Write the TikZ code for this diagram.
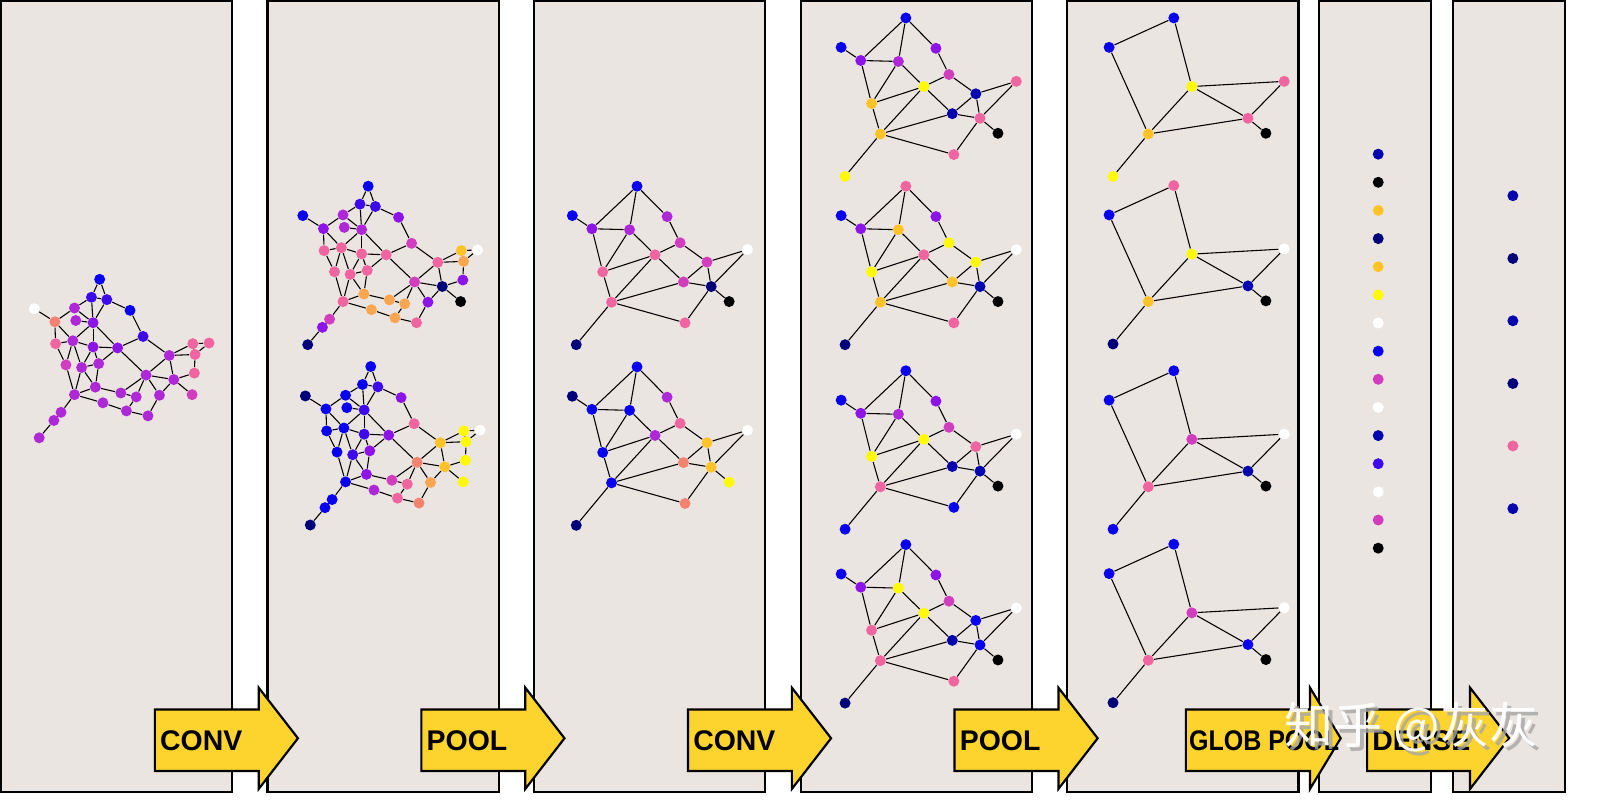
\documentclass[tikz,border=0pt]{standalone}
\usepackage{fontspec}
\setmainfont{Liberation Sans}
\newfontfamily\cjk{Noto Sans CJK SC}
\usetikzlibrary{calc}
\definecolor{panelbg}{RGB}{235,229,225}
\definecolor{arrowy}{RGB}{253,212,45}
\definecolor{cblue}{RGB}{10,0,240}
\definecolor{cnavy}{RGB}{0,0,120}
\definecolor{cdblue}{RGB}{5,5,175}
\definecolor{cindigo}{RGB}{60,10,235}
\definecolor{cviolet}{RGB}{140,20,230}
\definecolor{corchid}{RGB}{175,40,215}
\definecolor{cmag}{RGB}{210,60,190}
\definecolor{cpink}{RGB}{240,100,160}
\definecolor{csalmon}{RGB}{245,130,110}
\definecolor{csandy}{RGB}{250,165,80}
\definecolor{cgold}{RGB}{255,195,40}
\definecolor{cyellow}{RGB}{255,250,0}
\pgfdeclarelayer{back}\pgfdeclarelayer{edges}
\pgfsetlayers{back,edges,main}
\tikzset{
 dot/.style={circle,inner sep=0pt,minimum size=5.6pt,draw=none},
 edge/.style={draw=black,line width=0.55pt},
 panel/.style={draw=black,line width=1.1pt,fill=panelbg},
 arr/.style={draw=black,line width=1.1pt,fill=arrowy,line join=miter},
 albl/.style={anchor=west,font=\fontsize{14.5pt}{16pt}\selectfont\bfseries,inner sep=0pt},
}
\newcommand\bigG[4]{% prefix, dx, dy, colours
 \foreach \n/\c in {#4}{\node[dot,fill=\c] (#1\n) at ($(b\n)+(#2,#3)$) {};}
 \begin{pgfonlayer}{edges}
 \foreach \u/\v in {1/2,1/3,2/3,2/6,2/9,3/9,3/4,4/10,5/7,6/7,6/9,8/9,7/11,7/12,9/12,9/13,9/14,11/12,11/15,12/15,12/16,12/13,13/14,13/17,13/16,14/10,14/17,14/23,10/18,16/17,15/26,16/26,16/25,17/25,25/26,26/31,25/27,31/32,27/28,28/32,27/23,23/28,23/18,23/24,23/29,29/33,32/33,18/19,18/21,18/24,19/20,19/21,20/21,21/22,22/24,24/30,24/29,26/34,34/35,35/36}
  {\draw[edge] (#1\u) -- (#1\v);}
 \end{pgfonlayer}}
\newcommand\smallG[4]{%
 \foreach \n/\c in {#4}{\node[dot,fill=\c] (#1\n) at ($(t\n)+(#2,#3)$) {};}
 \begin{pgfonlayer}{edges}
 \foreach \u/\v in {A/C,A/D,A/E,B/C,C/D,C/H,D/H,D/G,E/F,F/G,F/I,G/H,G/M,G/J,H/M,M/J,M/N,M/O,J/I,J/K,I/K,I/P,K/P,K/L,K/N}
  {\draw[edge] (#1\u) -- (#1\v);}
 \end{pgfonlayer}}
\newcommand\tinyG[4]{%
 \foreach \n/\c in {#4}{\node[dot,fill=\c] (#1\n) at ($(t\n)+(#2,#3)$) {};}
 \begin{pgfonlayer}{edges}
 \foreach \u/\v in {A/B,A/G,B/M,G/P,G/K,G/M,M/K,K/P,K/L,M/O}
  {\draw[edge] (#1\u) -- (#1\v);}
 \end{pgfonlayer}}
\newcommand\arrowbox[5]{% name, left, headstart, tip, label
 \draw[arr] (#2,724) -- (#3,724) -- (#3,701.7) -- (#4,753.3) -- (#3,805) -- (#3,786.7) -- (#2,786.7) -- cycle;
 \node[albl] (#1) at (#2+5,755.5) {#5};}
\begin{document}
\begin{tikzpicture}[x=0.5pt,y=-0.5pt]
\useasboundingbox (0,0) rectangle (1631.6,826.5);
% templates
\foreach \n/\x/\y in {1/81.7/20,2/73.3/38.3,3/89/40.7,4/112.7/51.7,5/15/50,6/56/49.3,7/36/63.3,8/57.3/62,9/75/64.3,10/126/78.3,11/36.7/85.7,12/54.3/82.7,13/75/89,14/100/90,15/47.3/107.3,16/63.3/110,17/80.7/106,18/152.7/97.7,19/176.7/85.7,20/193.3/85,21/179/96.7,22/178.3/115.7,23/129/117.7,24/157.3/122.3,25/77.3/130,26/56/137.7,27/103.3/136,28/119/140,29/142.7/138.3,30/176/137.7,31/85/146,32/109/154.3,33/131/159.3,34/42.3/155.7,35/35/164,36/20/181.7}
 {\coordinate (b\n) at (\x,\y);}
\foreach \n/\x/\y in {A/924.3/18.3,B/858.3/48.3,C/878.3/61.7,D/916.7/62.7,E/955/49.3,F/968.3/76,G/942.7/88.3,H/889.3/105.7,I/995.7/95.7,J/971.7/116,K/1000/120.7,L/1018.3/136,M/898.3/136.7,N/973.3/157.7,O/862.3/180,P/1037/83}
 {\coordinate (t\n) at (\x,\y);}
% panels
\begin{pgfonlayer}{back}
\foreach \k in {0,...,4}{\path[panel] (1+272*\k,1) rectangle (237+272*\k,808);}
\path[panel] (1346,1) rectangle (1460,808);
\path[panel] (1483,1) rectangle (1597,808);
\end{pgfonlayer}
% panel 1
\bigG{p}{20}{265}{1/cblue,2/cindigo,3/cindigo,4/cblue,5/white,6/corchid,7/csalmon,8/corchid,9/cviolet,10/cindigo,11/cpink,12/corchid,13/cviolet,14/cviolet,15/cmag,16/corchid,17/corchid,18/corchid,19/cpink,20/cpink,21/cpink,22/cpink,23/corchid,24/corchid,25/corchid,26/corchid,27/corchid,28/corchid,29/corchid,30/cmag,31/corchid,32/corchid,33/corchid,34/corchid,35/corchid,36/corchid}
% panel 2
\bigG{q}{294}{170}{1/cblue,2/cindigo,3/cindigo,4/cviolet,5/cblue,6/corchid,7/cviolet,8/corchid,9/corchid,10/cmag,11/cpink,12/cpink,13/cpink,14/cpink,15/cpink,16/cpink,17/cpink,18/cpink,19/cgold,20/white,21/csandy,22/cviolet,23/cmag,24/cnavy,25/csandy,26/cpink,27/csandy,28/csandy,29/cviolet,30/black,31/csandy,32/csandy,33/cpink,34/cmag,35/cviolet,36/cnavy}
\bigG{r}{296.6}{354}{1/cblue,2/cblue,3/cindigo,4/cviolet,5/cnavy,6/cblue,7/cblue,8/cblue,9/cindigo,10/cpink,11/cblue,12/cblue,13/cindigo,14/cviolet,15/cblue,16/cindigo,17/cviolet,18/cgold,19/cyellow,20/white,21/cyellow,22/cyellow,23/csalmon,24/cgold,25/cviolet,26/cblue,27/cmag,28/cpink,29/csandy,30/cyellow,31/corchid,32/cpink,33/csalmon,34/cblue,35/cblue,36/cnavy}
% panel 3
\smallG{s}{-274.3}{171.7}{A/cblue,B/cblue,C/cviolet,D/corchid,E/corchid,F/cmag,G/cpink,H/cpink,I/cmag,J/cmag,K/cnavy,L/black,M/cpink,N/cpink,O/cnavy,P/white}
\smallG{u}{-274.3}{356}{A/cblue,B/cnavy,C/cblue,D/cblue,E/corchid,F/cpink,G/corchid,H/cblue,I/cgold,J/csalmon,K/cgold,L/cyellow,M/cblue,N/csalmon,O/cnavy,P/white}
% panel 4
\smallG{v}{0}{0}{A/cblue,B/cblue,C/cviolet,D/corchid,E/cviolet,F/cmag,G/cyellow,H/cgold,I/cdblue,J/cdblue,K/cpink,L/black,M/cgold,N/cpink,O/cyellow,P/cpink}
\smallG{w}{0}{171.7}{A/cpink,B/cblue,C/cviolet,D/cgold,E/cviolet,F/cyellow,G/cpink,H/cyellow,I/cyellow,J/cgold,K/cdblue,L/black,M/cgold,N/cpink,O/cnavy,P/white}
\smallG{x}{0}{360}{A/cblue,B/cblue,C/cviolet,D/corchid,E/cviolet,F/cmag,G/cyellow,H/cyellow,I/cpink,J/cdblue,K/cdblue,L/black,M/cpink,N/cblue,O/cblue,P/white}
\smallG{y}{0}{537.4}{A/cblue,B/cblue,C/cviolet,D/cyellow,E/cviolet,F/cmag,G/cyellow,H/cpink,I/cblue,J/cdblue,K/cblue,L/black,M/cpink,N/cpink,O/cnavy,P/white}
% panel 5
\tinyG{g}{273.4}{0}{A/cblue,B/cblue,G/cyellow,M/cgold,K/cpink,L/black,P/cpink,O/cyellow}
\tinyG{h}{273.4}{171}{A/cpink,B/cblue,G/cyellow,M/cgold,K/cdblue,L/black,O/cnavy,P/white}
\tinyG{i}{273.4}{360}{A/cblue,B/cblue,G/cmag,M/cpink,K/cdblue,L/black,O/cblue,P/white}
\tinyG{j}{273.4}{537}{A/cblue,B/cblue,G/cmag,M/cpink,K/cblue,L/black,O/cnavy,P/white}
% panel 6
\foreach \c [count=\i from 0] in {cdblue,black,cgold,cnavy,cgold,cyellow,white,cblue,cmag,white,cdblue,cindigo,white,cmag,black}
 {\node[dot,fill=\c] (e\i) at (1406.3,157.3+28.715*\i) {};}
% panel 7
\foreach \c/\yy [count=\i] in {cdblue/199.7,cnavy/263.7,cdblue/327.3,cnavy/391.3,cpink/455,cdblue/519}
 {\node[dot,fill=\c] (f\i) at (1543.7,\yy) {};}
% arrows
\arrowbox{a1}{158}{264}{304}{CONV}
\arrowbox{a2}{430}{536}{576}{POOL}
\arrowbox{a3}{702}{808}{848}{CONV}
\arrowbox{a4}{974}{1080}{1120}{POOL}
\draw[arr] (1210,724) -- (1336.7,724) -- (1336.7,701.7) -- (1368,753.3) -- (1336.7,805) -- (1336.7,786.7) -- (1210,786.7) -- cycle;
\node[albl,xscale=0.88] (a5) at (1213,755.5) {GLOB POOL};
\arrowbox{a6}{1395}{1500}{1540}{DENSE}
% watermark
\node[anchor=west,text=gray!70,opacity=0.8,font=\cjk\fontsize{25pt}{27pt}\selectfont] (wms) at (1308,746) {知乎 @灰灰};
\node[anchor=west,text=white,opacity=0.95,font=\cjk\fontsize{25pt}{27pt}\selectfont] (wm) at (1304,742) {知乎 @灰灰};
\end{tikzpicture}
\end{document}
